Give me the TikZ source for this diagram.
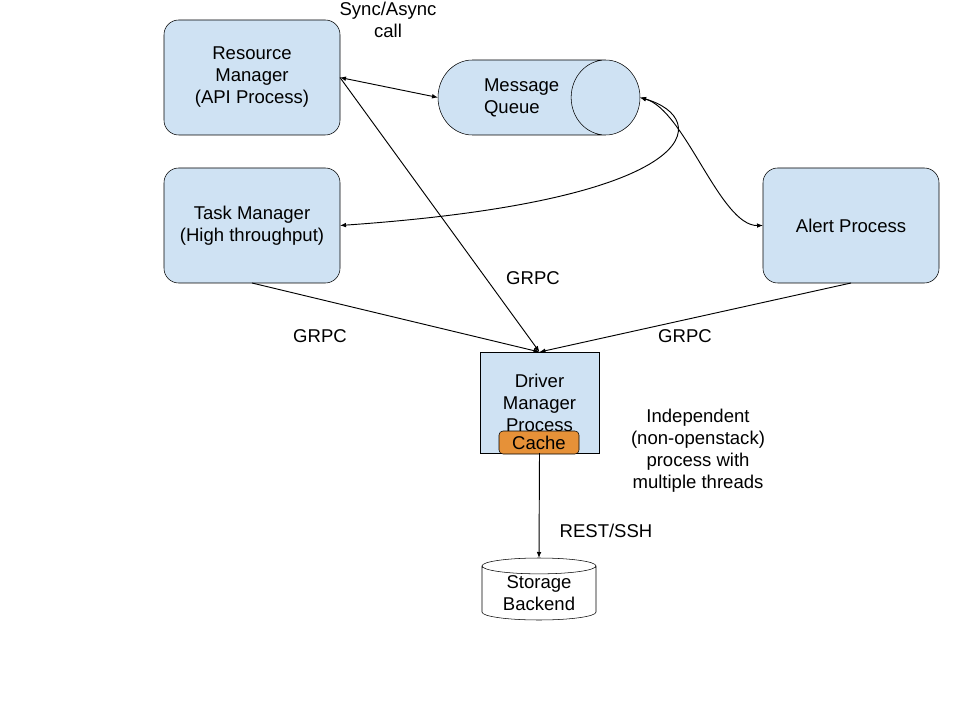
\documentclass[tikz,border=0pt]{standalone}
\usepackage{fontspec}
\setmainfont{Liberation Sans}
\usetikzlibrary{arrows.meta, positioning, shapes.geometric}
\definecolor{boxblue}{HTML}{CFE2F3}
\definecolor{cacheorange}{HTML}{E69138}
\tikzstyle{arrow} = [line width=0.7pt,-{Latex[length=4.5pt,width=3.5pt]}]
\tikzstyle{twoway} = [line width=0.7pt,{Latex[length=4.5pt,width=3.5pt]}-{Latex[length=4.5pt,width=3.5pt]}]

\begin{document}
\begin{tikzpicture}[x=0.75pt, y=-0.75pt, every node/.style={font=\fontsize{13.9}{16.5}\selectfont}]
        \tikzstyle{process}=[
            rectangle,
            rounded corners=11pt,
            draw, fill=boxblue,
            minimum width=132pt, minimum height=86.25pt, % same size for all
            inner sep=0pt, outer sep=0pt,
            align=center
        ]
        % minimum width is across the axis, minimum height along it
        \tikzstyle{queue}=[cylinder, shape border rotate=0, aspect=1.8,
            draw, fill=boxblue, minimum width=56.25pt, minimum height=151.5pt,
            inner sep=0pt, outer sep=0pt, align=left, anchor=shape center]
        \tikzstyle{store}=[cylinder, shape border rotate=90, aspect=0.22,
            draw, fill=white, minimum width=85.5pt, minimum height=46.5pt,
            inner sep=0pt, outer sep=0pt, align=center, anchor=shape center]
        \tikzstyle{note}=[inner sep=0pt, align=center]

        \useasboundingbox (0,0) rectangle (960,720);

        \node[process] (rm) at (252,77.5) {Resource\\Manager\\(API Process)};
        \node[process] (tm) [below=24.75pt of rm] {Task Manager\\(High throughput)};
        \node[process] (alert) [right=317.25pt of tm] {Alert Process};
        \node[queue] (mq) at (539,97.5) {Message\\Queue};

        \node[draw, fill=boxblue, minimum width=89.25pt, minimum height=75.75pt,
            inner sep=0pt, outer sep=0pt, align=center] (driver) at (539.5,402.5) {Driver\\Manager\\Process};
        \node[draw, fill=cacheorange, rounded corners=3pt, minimum width=60pt,
            minimum height=17.25pt, inner sep=0pt, outer sep=0pt] (cache) at (539,442.5) {Cache};
        \node[store] (storage) at (539,589) {Storage\\Backend};

        \node[note] (sync) at (388,19.5) {Sync/Async\\call};
        \node[note] (grpcrm) at (533,278) {GRPC};
        \node[note] (grpctm) at (320,336) {GRPC};
        \node[note] (grpcalert) at (685,336) {GRPC};
        \node[note] (rest) at (606,531) {REST/SSH};
        \node[note] (indep) at (698,450.5) {Independent\\(non-openstack)\\process with\\multiple threads};

        \draw[twoway] (rm.east) -- (mq.west);
        \draw[arrow] (rm.east) -- (driver.north);
        \draw[arrow] (tm.south) -- (driver.north);
        \draw[arrow] (alert.south) -- (driver.north);
        \draw[twoway] (mq.east) .. controls (712,118) and (708,200) .. (tm.east);
        \draw[twoway] (mq.east) .. controls (685,110) and (720,226) .. (alert.west);
        \draw[arrow] (driver.south) -- (storage.north);

    \end{tikzpicture}
\end{document}
